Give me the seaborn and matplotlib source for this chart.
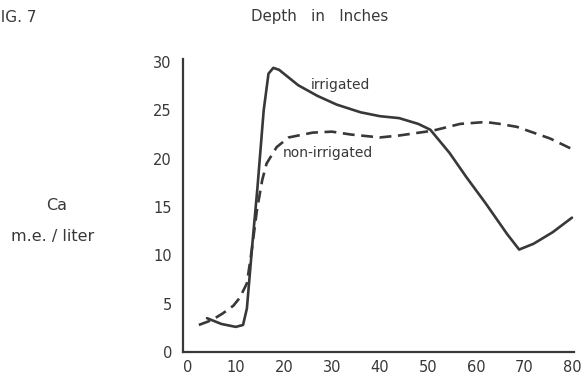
import numpy as np
import pandas as pd
import matplotlib
matplotlib.use("Agg")
import matplotlib.pyplot as plt
import seaborn as sns

# Data (depth in inches vs Ca m.e./liter)
irr_x = [4, 7, 10, 11.5, 12.3, 13.5, 14.5, 15.8, 16.8, 17.8, 19, 23, 27, 31, 36, 40, 44, 48, 50.5, 54.5, 58, 62, 66.5, 69, 72, 76, 80]
irr_y = [3.5, 2.9, 2.6, 2.8, 4.5, 11.5, 17, 25, 28.8, 29.4, 29.2, 27.6, 26.5, 25.6, 24.8, 24.4, 24.2, 23.6, 23.0, 20.6, 18.1, 15.4, 12.2, 10.6, 11.2, 12.4, 13.9]

non_x = [2.3, 5, 7.3, 9.5, 10.8, 12.3, 13.3, 14.4, 15.5, 16.4, 18.5, 21, 26, 30, 34, 40, 44, 51, 56.7, 62, 65, 68.5, 75.4, 80]
non_y = [2.8, 3.3, 4.0, 4.8, 5.6, 7.1, 10.5, 14.7, 17.8, 19.5, 21.2, 22.2, 22.7, 22.8, 22.5, 22.2, 22.4, 22.9, 23.6, 23.8, 23.6, 23.3, 22.1, 21.0]

x_ticks = [0, 10, 20, 30, 40, 50, 60, 70, 80]
y_ticks = [0, 5, 10, 15, 20, 25, 30]

df = pd.concat([
    pd.DataFrame({"depth": irr_x, "ca": irr_y, "series": "irrigated"}),
    pd.DataFrame({"depth": non_x, "ca": non_y, "series": "non-irrigated"}),
])

sns.set_theme(style="white")
plt.rcParams["font.family"] = ["DejaVu Sans"]
ink = "#383838"

fig = plt.figure(figsize=(5.81, 3.74), dpi=100)
ax = fig.add_axes([0.315, 0.0588, 0.6736, 0.783])

sns.lineplot(data=df[df.series == "irrigated"], x="depth", y="ca", sort=False,
             estimator=None, color=ink, lw=1.9, ax=ax)
sns.lineplot(data=df[df.series == "non-irrigated"], x="depth", y="ca", sort=False,
             estimator=None, color=ink, lw=1.9, ax=ax, dashes=False)
ax.lines[1].set_linestyle((0, (4.5, 2.5)))

ax.set_xlim(-1, 80.5)
ax.set_ylim(0, 30.3)
ax.set_xticks(x_ticks)
ax.set_yticks(y_ticks)
ax.tick_params(length=0, labelsize=10.5, colors=ink)
ax.tick_params(axis="y", pad=8)
ax.tick_params(axis="x", pad=6)
ax.set_xlabel("")
ax.set_ylabel("")
for s in ["top", "right"]:
    ax.spines[s].set_visible(False)
for s in ["left", "bottom"]:
    ax.spines[s].set_color(ink)
    ax.spines[s].set_linewidth(1.6)

ax.text(25.6, 27.6, "irrigated", fontsize=10, color=ink, va="center", ha="left")
ax.text(19.8, 20.6, "non-irrigated", fontsize=10, color=ink, va="center", ha="left")

fig.text(320 / 581, 1 - 16 / 374, "Depth   in   Inches", fontsize=10.8, color=ink, ha="center", va="center")
fig.text(-8 / 581, 1 - 18 / 374, "FIG. 7", fontsize=11, color=ink, ha="left", va="center")
fig.text(57 / 581, 1 - 205 / 374, "Ca", fontsize=11.5, color=ink, ha="center", va="center")
fig.text(53 / 581, 1 - 237 / 374, "m.e. / liter", fontsize=11.5, color=ink, ha="center", va="center")

fig.savefig("out.png", dpi=100)
